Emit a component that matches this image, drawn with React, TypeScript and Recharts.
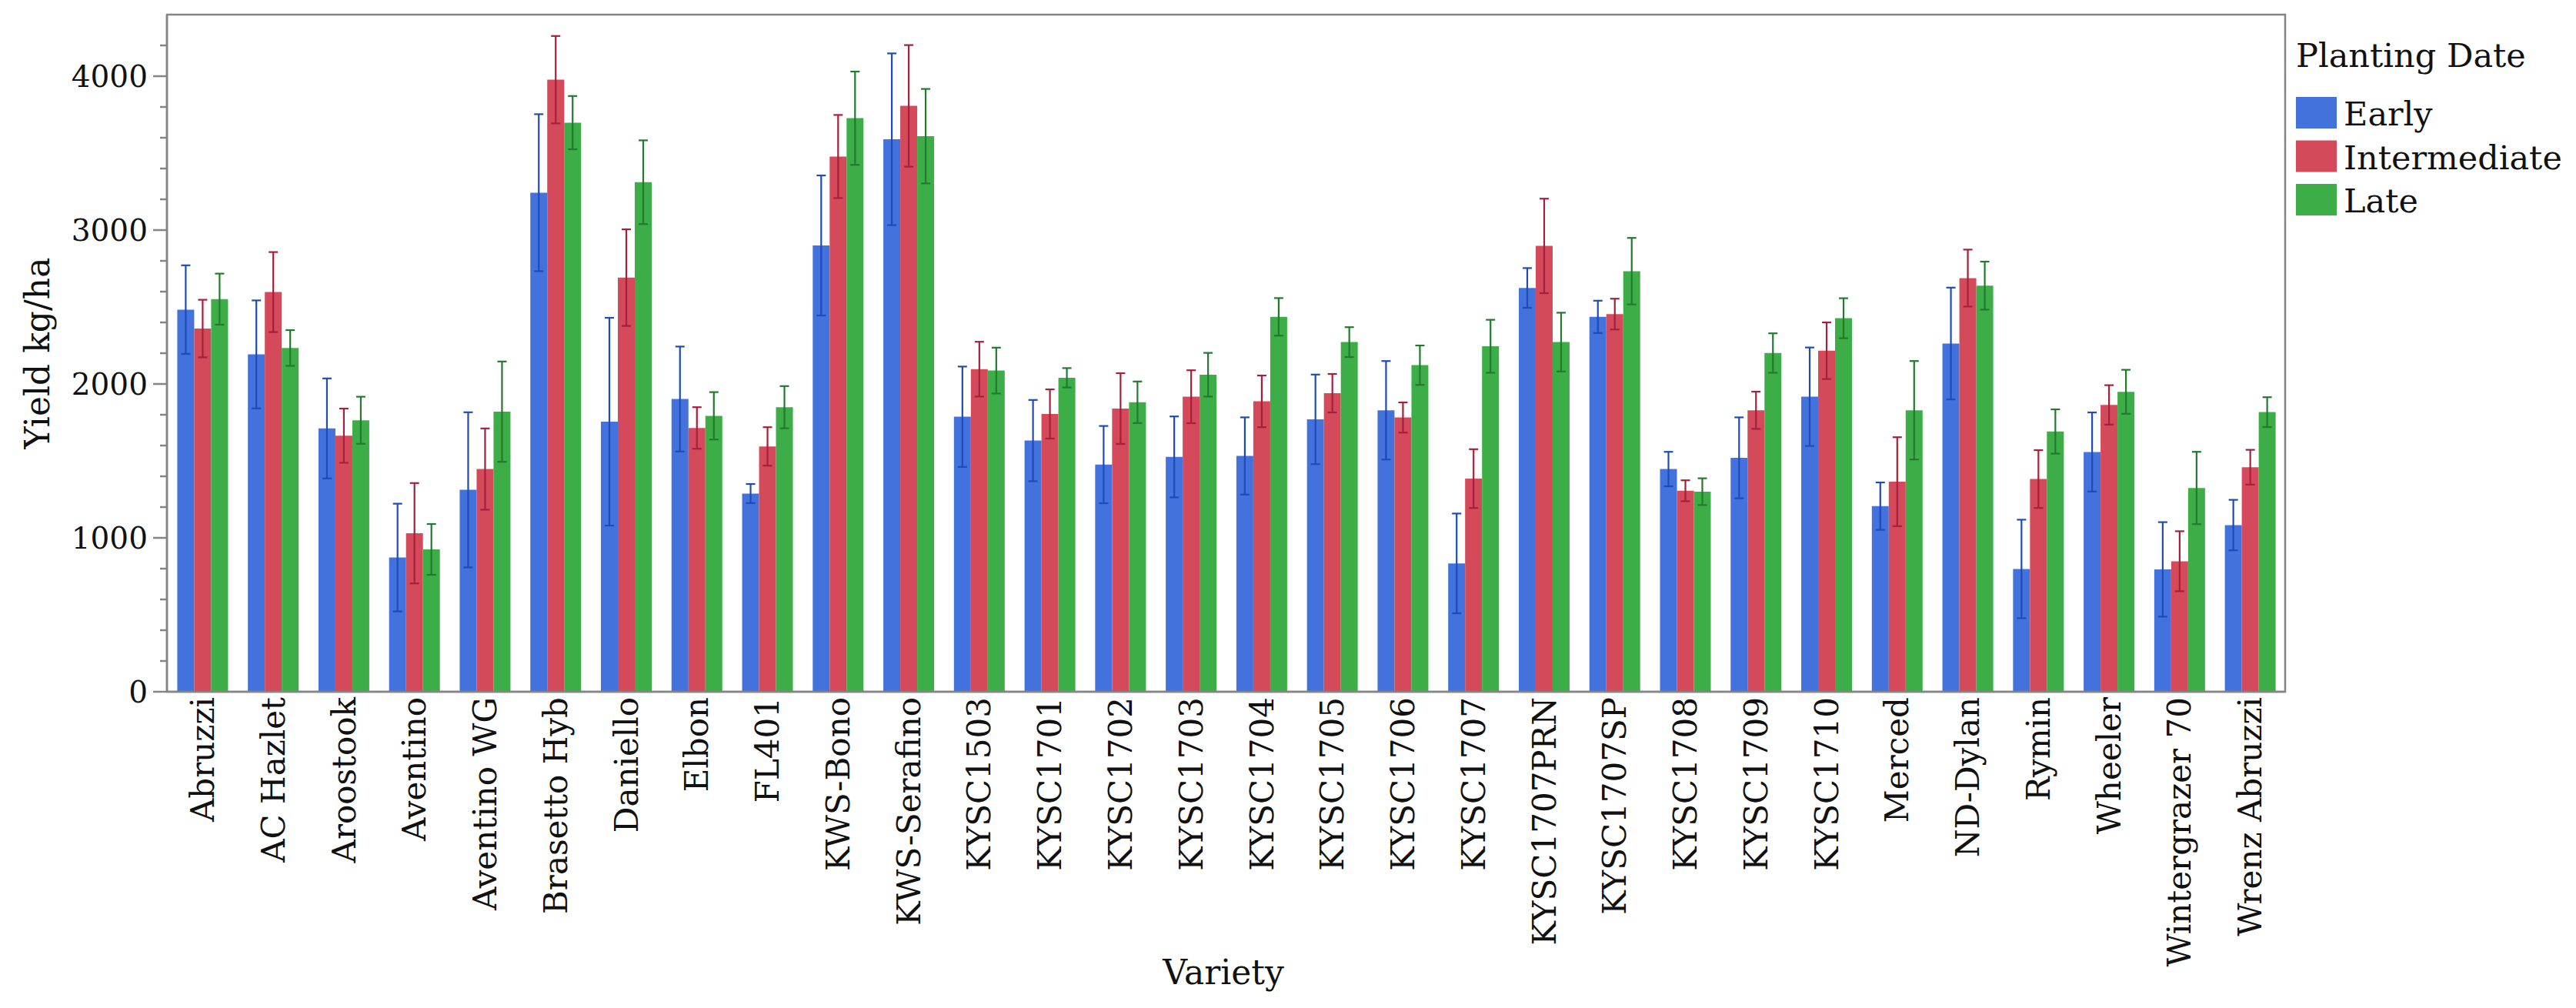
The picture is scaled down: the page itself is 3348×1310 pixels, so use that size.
import React from 'react';
import {
  BarChart,
  Bar,
  XAxis,
  YAxis,
  ErrorBar,
  Legend,
  Label,
  ReferenceArea,
} from 'recharts';

const varieties = [
  'Abruzzi', 'AC Hazlet', 'Aroostook', 'Aventino', 'Aventino WG', 'Brasetto Hyb',
  'Daniello', 'Elbon', 'FL401', 'KWS-Bono', 'KWS-Serafino', 'KYSC1503', 'KYSC1701',
  'KYSC1702', 'KYSC1703', 'KYSC1704', 'KYSC1705', 'KYSC1706', 'KYSC1707',
  'KYSC1707PRN', 'KYSC1707SP', 'KYSC1708', 'KYSC1709', 'KYSC1710', 'Merced',
  'ND-Dylan', 'Rymin', 'Wheeler', 'Wintergrazer 70', 'Wrenz Abruzzi',
];

const early = [2483, 2192, 1711, 872, 1312, 3243, 1755, 1902, 1288, 2900, 3590, 1787, 1632, 1476, 1526, 1532, 1770, 1829, 834, 2624, 2436, 1447, 1520, 1917, 1206, 2263, 798, 1558, 795, 1083];
const intermediate = [2360, 2597, 1664, 1030, 1447, 3977, 2691, 1714, 1594, 3478, 3807, 2096, 1805, 1840, 1917, 1887, 1940, 1782, 1385, 2897, 2454, 1306, 1829, 2216, 1365, 2688, 1382, 1864, 848, 1459];
const late = [2551, 2234, 1764, 925, 1820, 3698, 3311, 1793, 1849, 3727, 3610, 2087, 2040, 1881, 2060, 2436, 2272, 2122, 2245, 2272, 2733, 1300, 2201, 2427, 1829, 2639, 1691, 1949, 1324, 1817];

// half-width of the error bars
const earlyErr = [288, 351, 325, 350, 504, 510, 675, 341, 62, 455, 558, 326, 264, 251, 263, 251, 291, 320, 324, 129, 105, 112, 263, 320, 154, 363, 320, 257, 307, 164];
const intermediateErr = [187, 260, 176, 326, 264, 284, 314, 135, 125, 270, 395, 178, 160, 230, 172, 168, 125, 98, 191, 307, 100, 68, 121, 184, 289, 185, 188, 128, 195, 113];
const lateErr = [166, 116, 153, 165, 326, 173, 272, 154, 137, 303, 307, 149, 63, 135, 142, 122, 97, 128, 172, 191, 216, 87, 128, 130, 320, 156, 144, 143, 235, 97];

const yTicks = [0, 200, 400, 600, 800, 1000, 1200, 1400, 1600, 1800, 2000, 2200, 2400, 2600, 2800, 3000, 3200, 3400, 3600, 3800, 4000, 4200];

const data = varieties.map((name, i) => ({
  name,
  early: early[i],
  intermediate: intermediate[i],
  late: late[i],
  earlyErr: earlyErr[i],
  intermediateErr: intermediateErr[i],
  lateErr: lateErr[i],
}));

const FONT = '"DejaVu Serif", serif';
const AXIS = '#858585';

function YTick(props: any) {
  const { x, y, payload } = props;
  const major = payload.value % 1000 === 0;
  return (
    <g>
      <line x1={x - (major ? 18 : 9)} x2={x} y1={y} y2={y} stroke={AXIS} strokeWidth={2.5} />
      {major && (
        <text x={x - 25} y={y} dy={14} textAnchor="end" fontFamily={FONT} fontSize={39} fill="#111">
          {payload.value}
        </text>
      )}
    </g>
  );
}

function XTick(props: any) {
  const { x, y, payload } = props;
  return (
    <g transform={`translate(${x},${y + 7})`}>
      <text transform="rotate(-90)" textAnchor="end" dy="0.36em" fontFamily={FONT} fontSize={42} fill="#111">
        {payload.value}
      </text>
    </g>
  );
}

function LegendBox(props: any) {
  const { payload } = props;
  return (
    <svg width={378} height={300}>
      <text x={14} y={87} fontFamily={FONT} fontSize={43} fill="#111">Planting Date</text>
      {(payload || []).map((item: any, i: number) => (
        <g key={i}>
          <rect x={14} y={126 + i * 56.5} width={53} height={41} fill={item.color} />
          <text x={76} y={163 + i * 56.5} fontFamily={FONT} fontSize={43} fill="#111">
            {item.value}
          </text>
        </g>
      ))}
    </svg>
  );
}

export default function App() {
  return (
    <div style={{ position: 'absolute', left: 0, top: 0, background: '#fff' }}>
      <BarChart
        width={3348}
        height={1310}
        data={data}
        margin={{ top: 19, right: 378, bottom: 0, left: 0 }}
        barCategoryGap="14.6%"
        barGap={0}
      >
        <XAxis
          dataKey="name"
          interval={0}
          height={411}
          tickLine={false}
          tickSize={0}
          tickMargin={0}
          tick={<XTick />}
          axisLine={{ stroke: AXIS, strokeWidth: 2.5 }}
        >
          <Label
            content={() => (
              <text x={1590} y={1279} textAnchor="middle" fontFamily={FONT} fontSize={44} fill="#111">
                Variety
              </text>
            )}
          />
        </XAxis>
        <YAxis
          width={217}
          domain={[0, 4400]}
          ticks={yTicks}
          interval={0}
          tickLine={false}
          tickSize={0}
          tickMargin={0}
          tick={<YTick />}
          axisLine={{ stroke: AXIS, strokeWidth: 2.5 }}
        >
          <Label
            content={() => (
              <text
                x={48}
                y={459}
                transform="rotate(-90 48 459)"
                textAnchor="middle"
                dy="0.36em"
                fontFamily={FONT}
                fontSize={44}
                fill="#111"
              >
                Yield kg/ha
              </text>
            )}
          />
        </YAxis>
        <Legend
          layout="vertical"
          align="center"
          verticalAlign="middle"
          wrapperStyle={{ left: 2970, top: 0, width: 378, height: 300 }}
          content={<LegendBox />}
        />
        <Bar dataKey="early" name="Early" fill="#4472dc" isAnimationActive={false}>
          <ErrorBar dataKey="earlyErr" width={6} strokeWidth={2.2} stroke="#1d4cb8" direction="y" />
        </Bar>
        <Bar dataKey="intermediate" name="Intermediate" fill="#d44a5a" isAnimationActive={false}>
          <ErrorBar dataKey="intermediateErr" width={6} strokeWidth={2.2} stroke="#a5203a" direction="y" />
        </Bar>
        <Bar dataKey="late" name="Late" fill="#3dae47" isAnimationActive={false}>
          <ErrorBar dataKey="lateErr" width={6} strokeWidth={2.2} stroke="#217a2d" direction="y" />
        </Bar>
        <ReferenceArea y1={0} y2={4400} fill="none" stroke={AXIS} strokeWidth={2.5} ifOverflow="visible" />
      </BarChart>
    </div>
  );
}
